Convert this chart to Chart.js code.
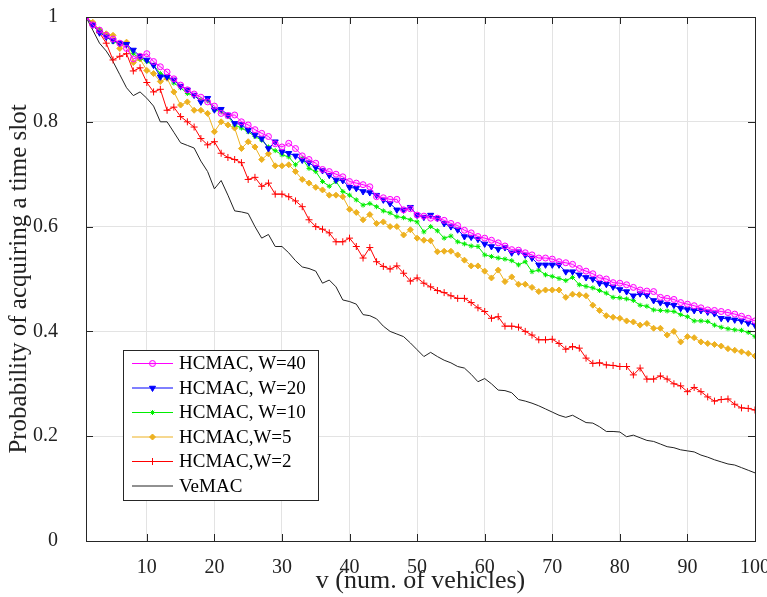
<!DOCTYPE html>
<html>
<head>
<meta charset="utf-8">
<script src="https://cdn.jsdelivr.net/npm/chart.js@4.4.0/dist/chart.umd.min.js"></script>
<style>
  html, body { margin: 0; padding: 0; background: #fff; }
  #wrap { width: 767px; height: 597px; position: relative; }
</style>
</head>
<body>
<div id="wrap"><canvas id="chart" width="767" height="597"></canvas></div>
<script>
// x = number of vehicles, 1..100
const vehicles = Array.from({ length: 100 }, (_, i) => i + 1);
const xTicks = [10, 20, 30, 40, 50, 60, 70, 80, 90, 100];
const yTicks = [0, 0.2, 0.4, 0.6, 0.8, 1];

const seriesNames = ['HCMAC, W=40', 'HCMAC, W=20', 'HCMAC, W=10', 'HCMAC,W=5', 'HCMAC,W=2', 'VeMAC'];

const hcmacW40 = [
  1.0, 0.985, 0.975, 0.965, 0.958, 0.95, 0.94, 0.92, 0.925, 0.93,
  0.915, 0.905, 0.895, 0.882, 0.87, 0.861, 0.853, 0.847, 0.838, 0.83,
  0.816, 0.812, 0.813, 0.80, 0.794, 0.785, 0.778, 0.772, 0.758, 0.752,
  0.759, 0.749, 0.735, 0.728, 0.721, 0.709, 0.705, 0.70, 0.695, 0.686,
  0.683, 0.68, 0.676, 0.657, 0.655, 0.652, 0.652, 0.632, 0.634, 0.622,
  0.62, 0.616, 0.616, 0.612, 0.606, 0.602, 0.593, 0.588, 0.581, 0.578,
  0.574, 0.569, 0.563, 0.556, 0.555, 0.55, 0.546, 0.54, 0.54, 0.538,
  0.533, 0.531, 0.528, 0.52, 0.515, 0.51, 0.502, 0.50, 0.493, 0.492,
  0.489, 0.484, 0.479, 0.477, 0.476, 0.465, 0.463, 0.461, 0.455, 0.452,
  0.449, 0.445, 0.441, 0.44, 0.438, 0.436, 0.433, 0.429, 0.425, 0.42
];
const hcmacW20 = [
  1.0, 0.985, 0.97, 0.962, 0.955, 0.95, 0.948, 0.937, 0.925, 0.918,
  0.908, 0.886, 0.886, 0.88, 0.868, 0.861, 0.851, 0.838, 0.845, 0.823,
  0.824, 0.813, 0.797, 0.795, 0.784, 0.775, 0.768, 0.749, 0.762, 0.743,
  0.74, 0.735, 0.727, 0.722, 0.713, 0.707, 0.698, 0.689, 0.688, 0.675,
  0.673, 0.667, 0.665, 0.66, 0.651, 0.644, 0.632, 0.632, 0.637, 0.622,
  0.618, 0.622, 0.616, 0.606, 0.60, 0.594, 0.581, 0.58, 0.576, 0.567,
  0.562, 0.557, 0.56, 0.55, 0.552, 0.546, 0.54, 0.527, 0.527, 0.527,
  0.527, 0.514, 0.514, 0.508, 0.503, 0.50, 0.492, 0.49, 0.485, 0.48,
  0.476, 0.468, 0.472, 0.469, 0.459, 0.455, 0.452, 0.45, 0.444, 0.442,
  0.44, 0.44, 0.437, 0.434, 0.425, 0.424, 0.422, 0.42, 0.416, 0.412
];
const hcmacW10 = [
  1.0, 0.985, 0.975, 0.962, 0.953, 0.95, 0.947, 0.93, 0.921, 0.915,
  0.908, 0.892, 0.886, 0.874, 0.865, 0.854, 0.85, 0.842, 0.84, 0.823,
  0.819, 0.81, 0.794, 0.788, 0.781, 0.772, 0.765, 0.752, 0.745, 0.737,
  0.733, 0.718, 0.73, 0.711, 0.705, 0.686, 0.677, 0.686, 0.667, 0.66,
  0.651, 0.641, 0.644, 0.638, 0.63, 0.626, 0.619, 0.617, 0.613, 0.609,
  0.59, 0.60, 0.592, 0.578, 0.582, 0.571, 0.567, 0.563, 0.562, 0.546,
  0.543, 0.54, 0.538, 0.535, 0.527, 0.533, 0.514, 0.517, 0.508, 0.505,
  0.501, 0.497, 0.503, 0.489, 0.486, 0.483, 0.478, 0.473, 0.465, 0.464,
  0.462, 0.459, 0.45, 0.448, 0.441, 0.44, 0.439, 0.438, 0.432, 0.428,
  0.42, 0.42, 0.419, 0.412, 0.408, 0.405, 0.403, 0.402, 0.398, 0.39
];
const hcmacW5 = [
  1.0, 0.99, 0.975, 0.968, 0.965, 0.94, 0.952, 0.913, 0.92, 0.898,
  0.892, 0.877, 0.883, 0.857, 0.832, 0.838, 0.822, 0.822, 0.816, 0.781,
  0.80, 0.794, 0.788, 0.749, 0.762, 0.752, 0.728, 0.739, 0.716, 0.716,
  0.718, 0.705, 0.69, 0.683, 0.675, 0.67, 0.66, 0.66, 0.657, 0.633,
  0.627, 0.613, 0.623, 0.606, 0.609, 0.60, 0.60, 0.584, 0.594, 0.578,
  0.574, 0.573, 0.552, 0.553, 0.553, 0.546, 0.536, 0.525, 0.525, 0.515,
  0.502, 0.517, 0.495, 0.504, 0.49, 0.49, 0.484, 0.476, 0.479, 0.479,
  0.479, 0.465, 0.471, 0.47, 0.468, 0.45, 0.44, 0.43, 0.427, 0.425,
  0.42, 0.418, 0.412, 0.415, 0.406, 0.406, 0.393, 0.40, 0.38, 0.39,
  0.388, 0.38, 0.377, 0.375, 0.372, 0.367, 0.364, 0.361, 0.358, 0.353
];
const hcmacW2 = [
  1.0, 0.985, 0.97, 0.95, 0.918, 0.925, 0.93, 0.897, 0.903, 0.875,
  0.857, 0.862, 0.822, 0.828, 0.81, 0.80, 0.79, 0.768, 0.756, 0.762,
  0.74, 0.732, 0.728, 0.722, 0.69, 0.694, 0.677, 0.683, 0.662, 0.662,
  0.657, 0.649, 0.638, 0.613, 0.60, 0.595, 0.588, 0.571, 0.571, 0.578,
  0.562, 0.54, 0.56, 0.533, 0.524, 0.519, 0.525, 0.511, 0.496, 0.502,
  0.492, 0.485, 0.478, 0.474, 0.468, 0.463, 0.463, 0.455, 0.445, 0.438,
  0.425, 0.428, 0.41, 0.41, 0.408, 0.40, 0.393, 0.384, 0.384, 0.385,
  0.377, 0.366, 0.371, 0.368, 0.349, 0.339, 0.34, 0.336, 0.335, 0.333,
  0.333, 0.317, 0.33, 0.309, 0.309, 0.315, 0.309, 0.30, 0.296, 0.285,
  0.293, 0.285, 0.275, 0.267, 0.27, 0.271, 0.261, 0.254, 0.253, 0.25
];
const veMAC = [
  1.0, 0.975, 0.95, 0.935, 0.915, 0.89, 0.865, 0.85, 0.857, 0.845,
  0.83, 0.80, 0.80, 0.78, 0.76, 0.755, 0.75, 0.725, 0.705, 0.672,
  0.688, 0.66, 0.63, 0.628, 0.625, 0.60, 0.578, 0.585, 0.562, 0.562,
  0.55, 0.535, 0.523, 0.52, 0.515, 0.492, 0.498, 0.485, 0.46, 0.457,
  0.452, 0.432, 0.43, 0.424, 0.41, 0.40, 0.395, 0.39, 0.378, 0.365,
  0.352, 0.36, 0.352, 0.345, 0.34, 0.333, 0.33, 0.318, 0.304, 0.31,
  0.30, 0.288, 0.287, 0.283, 0.27, 0.267, 0.263, 0.258, 0.252, 0.246,
  0.24, 0.236, 0.24, 0.233, 0.226, 0.225, 0.218, 0.209, 0.209, 0.208,
  0.199, 0.202, 0.197, 0.192, 0.19, 0.185, 0.18, 0.178, 0.174, 0.172,
  0.17, 0.164, 0.16, 0.155, 0.151, 0.147, 0.145, 0.14, 0.135, 0.13
];

const FONT = "'Liberation Serif', 'Times New Roman', serif";

function toPoints(arr) {
  return vehicles.map((v, i) => ({ x: v, y: arr[i] }));
}

const styles = [
  { color: '#ff00ff', style: 'circle', radius: 3, fill: 'rgba(255,0,255,0.15)', rot: 0 },
  { color: '#0000ff', style: 'triangle', radius: 3.5, fill: '#0000ff', rot: 180 },
  { color: '#00ee00', style: 'star', radius: 2.5, fill: '#00ee00', rot: 0 },
  { color: '#edb120', style: 'rectRot', radius: 3, fill: '#edb120', rot: 0 },
  { color: '#ff0000', style: 'cross', radius: 3.5, fill: '#ff0000', rot: 0 },
  { color: '#222222', style: false, radius: 0, fill: '#222222', rot: 0 }
];
const seriesData = [hcmacW40, hcmacW20, hcmacW10, hcmacW5, hcmacW2, veMAC];

const datasets = seriesData.map((arr, i) => ({
  label: seriesNames[i],
  data: toPoints(arr),
  borderColor: styles[i].color,
  backgroundColor: styles[i].fill,
  borderWidth: 1,
  pointStyle: styles[i].style,
  pointRadius: styles[i].radius,
  pointRotation: styles[i].rot,
  pointBorderColor: styles[i].color,
  pointBackgroundColor: styles[i].fill,
  pointBorderWidth: 1,
  tension: 0
}));

// box around the axes + inward tick marks (matlab look)
const boxPlugin = {
  id: 'boxPlugin',
  afterDatasetsDraw(chart) {
    const { ctx, chartArea: a, scales } = chart;
    ctx.save();
    ctx.strokeStyle = '#262626';
    ctx.lineWidth = 1;
    ctx.strokeRect(Math.round(a.left) + 0.5, Math.round(a.top) + 0.5, Math.round(a.right - a.left), Math.round(a.bottom - a.top));
    ctx.beginPath();
    xTicks.forEach(v => {
      const x = Math.round(scales.x.getPixelForValue(v)) + 0.5;
      ctx.moveTo(x, a.bottom); ctx.lineTo(x, a.bottom - 7);
      ctx.moveTo(x, a.top); ctx.lineTo(x, a.top + 7);
    });
    yTicks.forEach(v => {
      const y = Math.round(scales.y.getPixelForValue(v)) + 0.5;
      ctx.moveTo(a.left, y); ctx.lineTo(a.left + 7, y);
      ctx.moveTo(a.right, y); ctx.lineTo(a.right - 7, y);
    });
    ctx.stroke();
    ctx.restore();
  }
};

// legend box in the lower left of the plot
const legendPlugin = {
  id: 'legendBox',
  afterDraw(chart) {
    const { ctx } = chart;
    const x0 = 123, y0 = 350, w = 195, h = 150;
    ctx.save();
    ctx.fillStyle = '#fff';
    ctx.fillRect(x0, y0, w, h);
    ctx.strokeStyle = '#262626';
    ctx.lineWidth = 1;
    ctx.strokeRect(x0 + 0.5, y0 + 0.5, w, h);
    ctx.font = '19px ' + FONT;
    ctx.textBaseline = 'middle';
    ctx.fillStyle = '#000';
    chart.data.datasets.forEach((ds, i) => {
      const y = y0 + 13.5 + i * 24.5;
      ctx.strokeStyle = ds.borderColor;
      ctx.beginPath();
      ctx.moveTo(132, y); ctx.lineTo(173, y);
      ctx.stroke();
      if (ds.pointStyle) {
        ctx.fillStyle = ds.pointBackgroundColor;
        Chart.helpers.drawPoint(ctx, {
          pointStyle: ds.pointStyle, radius: ds.pointRadius, rotation: ds.pointRotation, borderWidth: 1
        }, 152.5, y);
      }
      ctx.fillStyle = '#000';
      ctx.fillText(ds.label, 179, y + 1);
    });
    ctx.restore();
  }
};

new Chart(document.getElementById('chart'), {
  type: 'line',
  data: { datasets },
  options: {
    responsive: false,
    animation: false,
    devicePixelRatio: 1,
    layout: { padding: { left: 4, right: 12, top: 17, bottom: 0 } },
    plugins: {
      legend: { display: false },
      tooltip: { enabled: false }
    },
    scales: {
      x: {
        type: 'linear',
        min: 1,
        max: 100,
        afterBuildTicks: s => { s.ticks = xTicks.map(v => ({ value: v })); },
        afterFit: s => { s.height = 56; s.paddingLeft = 0; s.paddingRight = 0; },
        grid: { color: '#e3e3e3', drawTicks: false },
        border: { display: false },
        ticks: { color: '#222', font: { family: FONT, size: 20 }, padding: 15, maxRotation: 0 },
        title: { display: true, text: 'v (num. of vehicles)', color: '#222', font: { family: FONT, size: 26 }, padding: { top: 0, bottom: 0 } }
      },
      y: {
        min: 0,
        max: 1,
        afterBuildTicks: s => { s.ticks = yTicks.map(v => ({ value: v })); },
        afterFit: s => { s.width = 82; s.paddingTop = 0; s.paddingBottom = 0; },
        grid: { color: '#e3e3e3', drawTicks: false },
        border: { display: false },
        ticks: {
          color: '#222', font: { family: FONT, size: 20 }, padding: 28,
          callback: v => (v === 0 || v === 1) ? String(v) : v.toFixed(1)
        },
        title: { display: true, text: 'Probability of acquiring a time slot', color: '#222', font: { family: FONT, size: 25 }, padding: { top: 0, bottom: 0 } }
      }
    }
  },
  plugins: [boxPlugin, legendPlugin]
});
</script>
</body>
</html>
